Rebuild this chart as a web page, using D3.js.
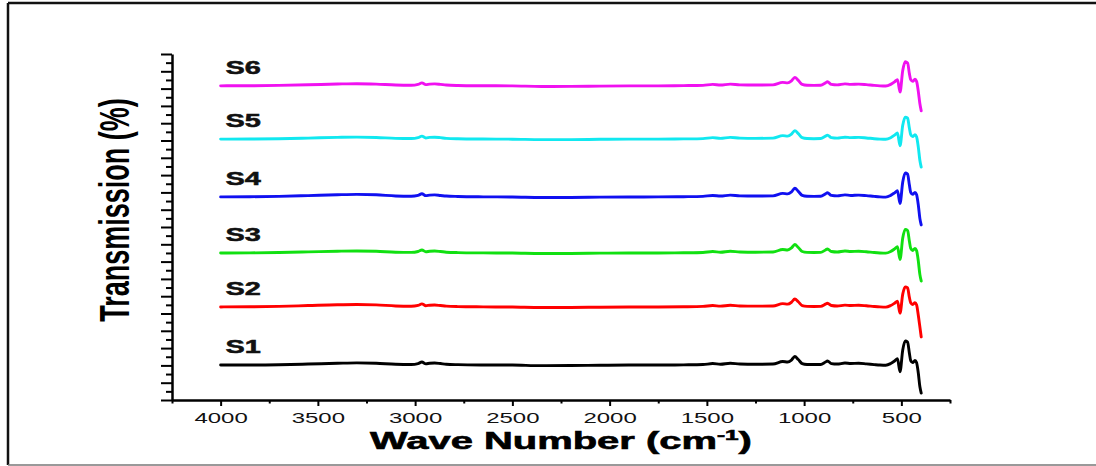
<!DOCTYPE html>
<html>
<head>
<meta charset="utf-8">
<script src="https://cdn.jsdelivr.net/npm/d3@7"></script>
<style>
  html, body { margin: 0; padding: 0; background: #fff; }
  svg { display: block; }
  text { font-family: "Liberation Sans", Arial, sans-serif; }
</style>
</head>
<body>
<svg id="chart" width="1096" height="466"></svg>
<script>
// FTIR spectra of six samples, vertically offset (Transmission in %)
const wavenumbers = [4000,3850,3700,3550,3400,3300,3200,3100,3020,2985,2965,2945,2925,2900,2870,2840,2780,2650,2500,2350,2200,2050,1900,1750,1620,1520,1470,1430,1380,1330,1250,1160,1110,1085,1065,1048,1030,1010,985,950,915,890,880,860,830,790,760,720,680,640,610,580,555,535,520,507,493,480,468,459,452,442,430,422,413,405,398];

const seriesNames = ["S1", "S2", "S3", "S4", "S5", "S6"];

const s1 = [10.10,10.10,10.19,10.39,10.62,10.74,10.62,10.33,10.27,10.53,10.97,10.45,10.62,10.68,10.53,10.33,10.22,10.13,10.10,9.93,9.96,10.04,10.10,10.10,10.16,10.24,10.53,10.33,10.62,10.39,10.33,10.39,11.11,10.97,11.55,12.56,11.69,10.53,10.27,10.24,10.27,10.97,11.26,10.53,10.39,10.68,10.53,10.62,10.45,10.24,10.10,10.04,10.53,11.26,11.92,8.16,14.44,17.04,16.75,13.57,11.40,10.82,11.40,10.82,7.79,3.89,2.01];
const s2 = [26.90,26.93,27.05,27.30,27.55,27.62,27.50,27.18,27.10,27.35,27.78,27.25,27.40,27.45,27.30,27.12,27.00,26.92,26.86,26.72,26.74,26.82,26.88,26.90,26.95,27.05,27.30,27.12,27.38,27.18,27.12,27.18,27.85,27.70,28.25,29.20,28.40,27.30,27.06,27.02,27.06,27.70,27.98,27.30,27.15,27.42,27.30,27.38,27.22,27.02,26.90,26.84,27.30,27.98,28.55,25.10,30.60,32.70,32.40,29.70,28.10,27.60,28.15,27.55,24.50,21.20,18.23];
const s3 = [42.50,42.52,42.62,42.80,43.00,43.08,42.98,42.72,42.66,42.92,43.36,42.84,43.00,43.06,42.92,42.72,42.60,42.52,42.48,42.34,42.36,42.44,42.50,42.50,42.56,42.64,42.92,42.72,43.00,42.78,42.72,42.78,43.50,43.36,43.94,44.95,44.08,42.92,42.66,42.62,42.66,43.36,43.66,42.92,42.78,43.06,42.92,43.00,42.84,42.62,42.50,42.44,42.92,43.66,44.30,40.60,46.80,49.30,49.00,45.95,43.80,43.22,43.80,43.20,40.20,36.30,34.40];
const s4 = [58.70,58.74,58.86,59.08,59.32,59.42,59.30,58.98,58.90,59.14,59.60,59.06,59.22,59.28,59.12,58.94,58.82,58.72,58.68,58.52,58.54,58.62,58.68,58.70,58.76,58.86,59.12,58.94,59.22,59.00,58.94,59.00,59.72,59.58,60.16,61.20,60.30,59.14,58.88,58.84,58.88,59.58,59.88,59.14,59.00,59.28,59.12,59.22,59.06,58.84,58.70,58.64,59.14,59.88,60.50,56.80,63.00,65.60,65.30,62.20,60.00,59.42,60.00,59.40,56.40,52.50,50.60];
const s5 = [75.40,75.42,75.52,75.70,75.90,75.98,75.88,75.62,75.56,75.82,76.26,75.74,75.90,75.96,75.82,75.62,75.50,75.42,75.38,75.24,75.26,75.34,75.40,75.40,75.46,75.54,75.82,75.62,75.90,75.68,75.62,75.68,76.40,76.26,76.84,77.85,76.98,75.82,75.56,75.52,75.56,76.26,76.56,75.82,75.68,75.96,75.82,75.90,75.74,75.52,75.40,75.34,75.82,76.56,77.20,73.50,79.40,81.76,81.45,78.60,76.70,76.12,76.70,76.10,73.10,69.30,67.31];
const s6 = [90.80,90.82,90.92,91.10,91.32,91.42,91.30,91.02,90.96,91.22,91.66,91.14,91.30,91.36,91.22,91.02,90.90,90.82,90.78,90.62,90.64,90.72,90.78,90.80,90.86,90.94,91.22,91.02,91.30,91.08,91.02,91.08,91.80,91.66,92.24,93.25,92.38,91.22,90.96,90.92,90.96,91.66,91.96,91.22,91.08,91.36,91.22,91.30,91.14,90.92,90.80,90.74,91.22,91.96,92.60,89.00,95.20,97.74,97.40,94.40,92.60,92.10,92.70,92.10,89.20,85.70,83.60];

const seriesValues = [s1, s2, s3, s4, s5, s6];

const xMajorTicks = [4000, 3500, 3000, 2500, 2000, 1500, 1000, 500];
const xMinorTicks = [4250, 3750, 3250, 2750, 2250, 1750, 1250, 750, 250];
const yMajorTicks = d3.range(0, 100.01, 5);
const yMinorTicks = d3.range(2.5, 100, 5);

const colors = ["#000000", "#ff0000", "#11e011", "#1010f0", "#11e8f0", "#f011f0"];

const svg = d3.select("#chart");

// frame around the figure
svg.append("line").attr("x1", 8).attr("x2", 1096).attr("y1", 3).attr("y2", 3)
  .attr("stroke", "#111").attr("stroke-width", 2.5);
svg.append("line").attr("x1", 8).attr("x2", 8).attr("y1", 3).attr("y2", 465)
  .attr("stroke", "#111").attr("stroke-width", 2.5);
svg.append("line").attr("x1", 8).attr("x2", 1096).attr("y1", 465).attr("y2", 465)
  .attr("stroke", "#777").attr("stroke-width", 1.5);

const x = d3.scaleLinear().domain([4250, 250]).range([172, 950]);
const y = d3.scaleLinear().domain([0, 100]).range([400, 54]);

const TEXT_SX = 1.6; // wide lettering

// spectra
const line = d3.line()
  .x(d => x(d[0]))
  .y(d => y(d[1]))
  .curve(d3.curveMonotoneX);

seriesValues.forEach((vals, i) => {
  const pts = wavenumbers.map((w, k) => [w, vals[k]]);
  svg.append("path")
    .datum(pts)
    .attr("fill", "none")
    .attr("stroke", colors[i])
    .attr("stroke-width", 2.9)
    .attr("stroke-linejoin", "round")
    .attr("stroke-linecap", "round")
    .attr("d", line);

  // sample label above the flat high-wavenumber part of its trace
  const base = vals[0];
  svg.append("g")
    .attr("transform", `translate(${x(3975)},${y(base) - 12}) scale(1.65,1)`)
    .append("text")
    .attr("font-weight", "bold")
    .attr("font-size", 17.5)
    .attr("fill", "#111")
    .attr("stroke", "#111")
    .attr("stroke-width", 0.5)
    .text(seriesNames[i]);
});

// x axis
const xAxisG = svg.append("g").attr("transform", "translate(0,400)");
xAxisG.append("g")
  .call(d3.axisBottom(x).tickValues(xMinorTicks).tickSize(3.5).tickSizeOuter(0).tickFormat(""))
  .call(g => g.select(".domain").remove())
  .call(g => g.selectAll(".tick line").attr("stroke", "#000").attr("stroke-width", 2));
xAxisG.append("g")
  .call(d3.axisBottom(x).tickValues(xMajorTicks).tickSize(6).tickSizeOuter(0).tickFormat(d3.format("d")))
  .call(g => g.select(".domain").attr("stroke", "#000").attr("stroke-width", 2.5))
  .call(g => g.selectAll(".tick line").attr("stroke", "#000").attr("stroke-width", 2))
  .call(g => g.selectAll(".tick text")
    .attr("y", 23).attr("dy", 0)
    .attr("font-size", 15)
    .attr("font-family", "'Liberation Sans', Arial, sans-serif")
    .attr("fill", "#111")
    .attr("transform", `scale(${TEXT_SX},1)`));

// y axis (no labels)
const yAxisG = svg.append("g").attr("transform", "translate(172,0)");
yAxisG.append("g")
  .call(d3.axisLeft(y).tickValues(yMinorTicks).tickSize(6).tickSizeOuter(0).tickFormat(""))
  .call(g => g.select(".domain").remove())
  .call(g => g.selectAll(".tick line").attr("stroke", "#000").attr("stroke-width", 2));
yAxisG.append("g")
  .call(d3.axisLeft(y).tickValues(yMajorTicks).tickSize(11).tickSizeOuter(0).tickFormat(""))
  .call(g => g.select(".domain").attr("stroke", "#000").attr("stroke-width", 2.5))
  .call(g => g.selectAll(".tick line").attr("stroke", "#000").attr("stroke-width", 2));

// x axis title with superscript
const xTitleG = svg.append("g");
const xTitle = xTitleG.append("text")
  .attr("font-weight", "bold")
  .attr("font-size", 23)
  .attr("fill", "#000")
  .attr("stroke", "#000")
  .attr("stroke-width", 0.6)
  .attr("text-anchor", "middle");
xTitle.append("tspan").text("Wave Number (cm");
xTitle.append("tspan").attr("font-size", 14).attr("dy", -9).text("-1");
xTitle.append("tspan").attr("dy", 9).text(")");
const xw = xTitle.node().getBBox().width;
xTitleG.attr("transform", `translate(561,449) scale(${382 / xw},1)`);

// y axis title, rotated
svg.append("g")
  .attr("transform", `translate(129,210) scale(${TEXT_SX},1) rotate(-90)`)
  .append("text")
  .attr("font-weight", "bold")
  .attr("font-size", 27)
  .attr("fill", "#000")
  .attr("text-anchor", "middle")
  .text("Transmission (%)");
</script>
</body>
</html>
